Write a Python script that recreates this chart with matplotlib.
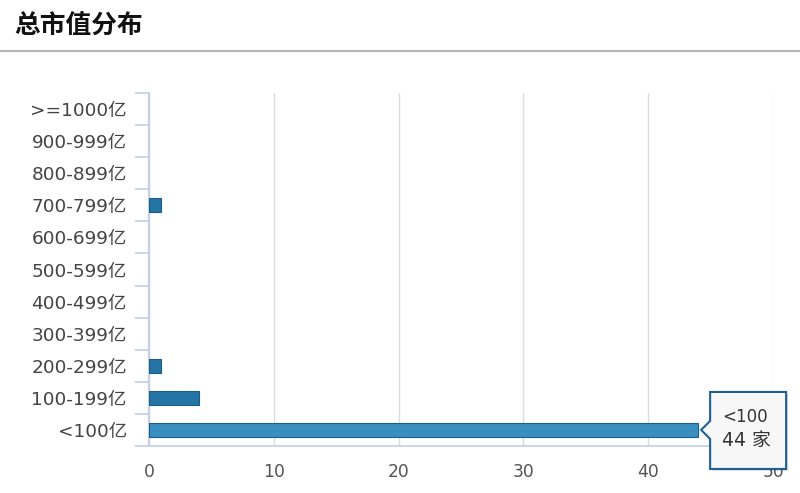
import matplotlib
matplotlib.use('Agg')
import matplotlib.pyplot as plt
import matplotlib.transforms as mtransforms
from matplotlib.patches import Polygon

plt.rcParams['font.family'] = ['DejaVu Sans', 'Noto Sans CJK SC']

# 数据：总市值区间 -> 公司数量
categories = ['<100亿', '100-199亿', '200-299亿', '300-399亿', '400-499亿', '500-599亿',
              '600-699亿', '700-799亿', '800-899亿', '900-999亿', '>=1000亿']
counts = [44, 4, 1, 0, 0, 0, 0, 1, 0, 0, 0]
xticks = [0, 10, 20, 30, 40, 50]
tooltip_idx = 0
tooltip_name = '<100'
unit = '家'

fig = plt.figure(figsize=(8, 4.93), dpi=100)

# 标题和分隔线
fig.text(14 / 800, 1 - 26 / 493, '总市值分布', fontsize=18.5, fontweight='bold',
         family=['Noto Sans CJK SC'], va='center', ha='left', color='#111111')
fig.add_artist(plt.Line2D([0, 1], [1 - 51 / 493, 1 - 51 / 493], color='#b4b4b4', lw=1.5))

ax = fig.add_axes([149 / 800, 1 - 446 / 493, 624 / 800, 353 / 493])

ypos = list(range(len(categories)))
colors = ['#3a8fc0' if i == tooltip_idx else '#2474a4' for i in ypos]
widths = [0.8 if c > 0 else 0 for c in counts]
ax.barh(ypos, counts, height=0.44, color=colors, edgecolor='#1b5d8c', linewidth=widths, zorder=3)

ax.set_xlim(0, 50)
ax.set_ylim(-0.5, len(categories) - 0.5)
ax.set_xticks(xticks)
ax.set_yticks(ypos)
ax.set_yticklabels(categories)
ax.set_yticks([i - 0.5 for i in range(len(categories) + 1)], minor=True)

ax.tick_params(axis='y', which='major', length=0, pad=16, labelsize=13.3, labelcolor='#444444')
ax.tick_params(axis='y', which='minor', length=10, width=1.2, color='#c4d0e8', direction='out')
ax.tick_params(axis='x', length=0, pad=12, labelsize=12.3, labelcolor='#555555')

ax.grid(axis='x', color='#dcdcdc', lw=1, zorder=0)
for s in ['top', 'right']:
    ax.spines[s].set_visible(False)
ax.spines['left'].set_color('#c4d0e8')
ax.spines['left'].set_linewidth(1.5)
ax.spines['bottom'].set_color('#c4d0e8')
ax.spines['bottom'].set_linewidth(1.2)

# 提示框（鼠标悬停效果）
tr = mtransforms.IdentityTransform() + mtransforms.ScaledTranslation(
    counts[tooltip_idx], ypos[tooltip_idx], ax.transData)
tip = [(3, 0), (12, 9), (12, 38), (88, 38), (88, -39), (12, -39), (12, -9)]
shadow = [(x + 2, y - 2) for x, y in tip]
ax.add_patch(Polygon(shadow, closed=True, transform=tr, facecolor='#000000', alpha=0.12,
                     edgecolor='none', clip_on=False, zorder=9))
ax.add_patch(Polygon(tip, closed=True, transform=tr, facecolor='#f7f7f7', edgecolor='#1d5f97',
                     lw=1.5, clip_on=False, zorder=10))
ax.text(24, 13, tooltip_name, transform=tr, fontsize=12, color='#333333', va='center',
        ha='left', zorder=11)
ax.text(24, -11, f'{counts[tooltip_idx]} {unit}', transform=tr, fontsize=13.5, color='#333333',
        va='center', ha='left', zorder=11)

fig.savefig('out.png', dpi=100)
